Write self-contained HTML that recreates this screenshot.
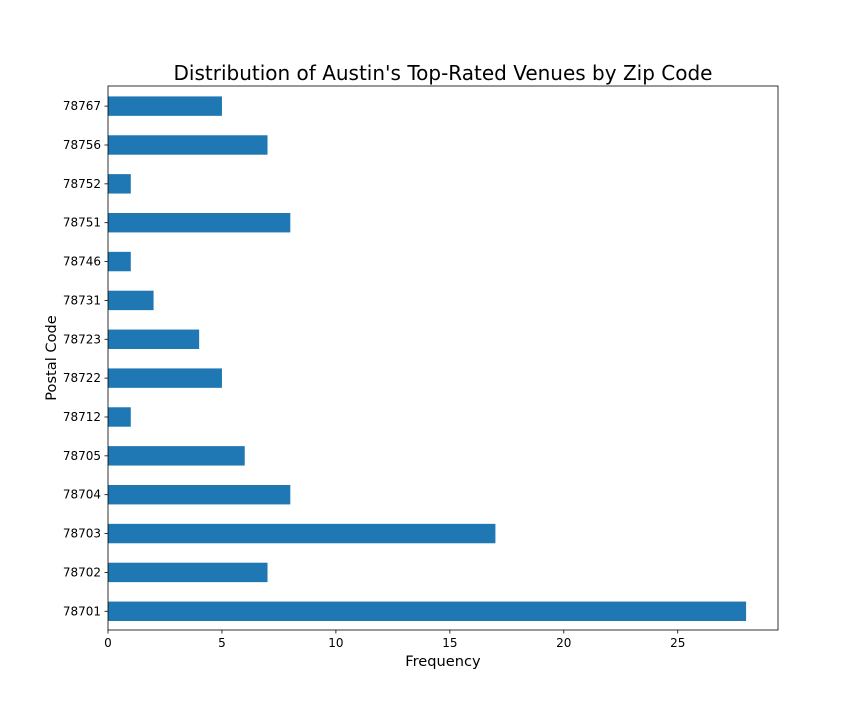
<!DOCTYPE html>
<html><head><meta charset="utf-8"><style>
body{margin:0;background:#fff;}
svg{display:block;font-family:"DejaVu Sans","Liberation Sans",sans-serif;}
</style></head><body>
<svg id="chart" width="864" height="720">
<text x="443" y="80" text-anchor="middle" font-size="20" fill="#000">Distribution of Austin's Top-Rated Venues by Zip Code</text>
<g id="bars"></g>
<g id="axes"></g>
<text x="443" y="666" text-anchor="middle" font-size="14.6">Frequency</text>
<text transform="translate(56,358) rotate(-90)" text-anchor="middle" font-size="14.6">Postal Code</text>
</svg>
<script>
const categories=["78701","78702","78703","78704","78705","78712","78722","78723","78731","78746","78751","78752","78756","78767"];
const values=[28,7,17,8,6,1,5,4,2,1,8,1,7,5];
const xTicks=[0,5,10,15,20,25];
const L=108,R=778,T=86,B=630;
const xMax=Math.max(...values)*1.05;
const xs=v=>L+(v/xMax)*(R-L);
const n=categories.length;
const ys=i=>B-((i+0.5)/n)*(B-T)+0.7;
const ns="http://www.w3.org/2000/svg";
const bars=document.getElementById('bars'),axes=document.getElementById('axes');
function mk(tag,attrs,parent){const e=document.createElementNS(ns,tag);for(const k in attrs)e.setAttribute(k,attrs[k]);parent.appendChild(e);return e;}
const bh=0.5*(B-T)/n;
categories.forEach((c,i)=>{
  const r=mk('rect',{x:xs(0),y:ys(i)-bh/2,width:xs(values[i])-xs(0),height:bh,fill:'#1f77b4'},bars);
  
  
  mk('line',{x1:L-3.5,x2:L,y1:ys(i),y2:ys(i),stroke:'#000','stroke-width':0.8},axes);
  const t=mk('text',{x:L-7,y:ys(i)+4,'text-anchor':'end','font-size':12},axes);
  t.textContent=c;
  
  
});
xTicks.forEach(v=>{
  mk('line',{x1:xs(v),x2:xs(v),y1:B,y2:B+3.5,stroke:'#000','stroke-width':0.8},axes);
  const t=mk('text',{x:xs(v),y:B+17,'text-anchor':'middle','font-size':12},axes);
  t.textContent=v;
  
  
});
const f=mk('rect',{x:L,y:T,width:R-L,height:B-T,fill:'none',stroke:'#000','stroke-width':0.8},axes);


</script>
</body></html>
